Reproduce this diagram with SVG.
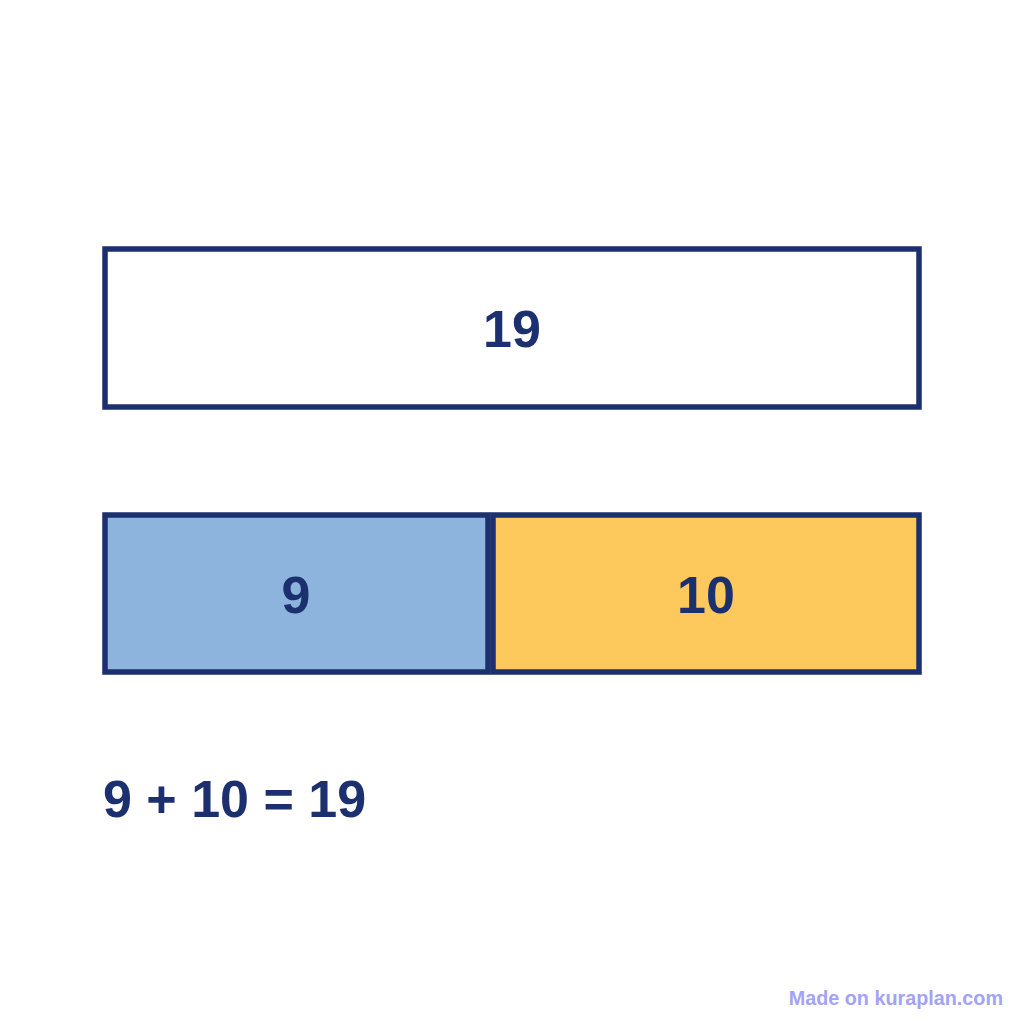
<svg xmlns="http://www.w3.org/2000/svg" width="1024" height="1024" viewBox="0 0 1024 1024">
<style>
.box{stroke:#1c2f6e;stroke-width:5.5}
.lbl{font-family:"Liberation Sans",Arial,sans-serif;font-weight:bold;fill:#1c2f6e;font-size:52px}
</style>
<rect width="1024" height="1024" fill="#ffffff"/>
<g id="total"><rect class="box" x="105" y="249" width="814" height="158" fill="#ffffff"/><text class="lbl" x="512" y="347" text-anchor="middle">19</text></g>
<g id="part1"><rect class="box" x="105" y="515" width="383" height="157" fill="#8db4dc"/><text class="lbl" x="296" y="613" text-anchor="middle">9</text></g>
<g id="part2"><rect class="box" x="493" y="515" width="426" height="157" fill="#fdc85c"/><text class="lbl" x="706" y="613" text-anchor="middle">10</text></g>
<g id="equation"><text class="lbl" x="103" y="817" font-size="53">9 + 10 = 19</text></g>
<text x="1003" y="1005" text-anchor="end" font-family="'Liberation Sans',Arial,sans-serif" font-weight="bold" font-size="19.8" fill="#a3a3f5">Made on kuraplan.com</text>
</svg>
